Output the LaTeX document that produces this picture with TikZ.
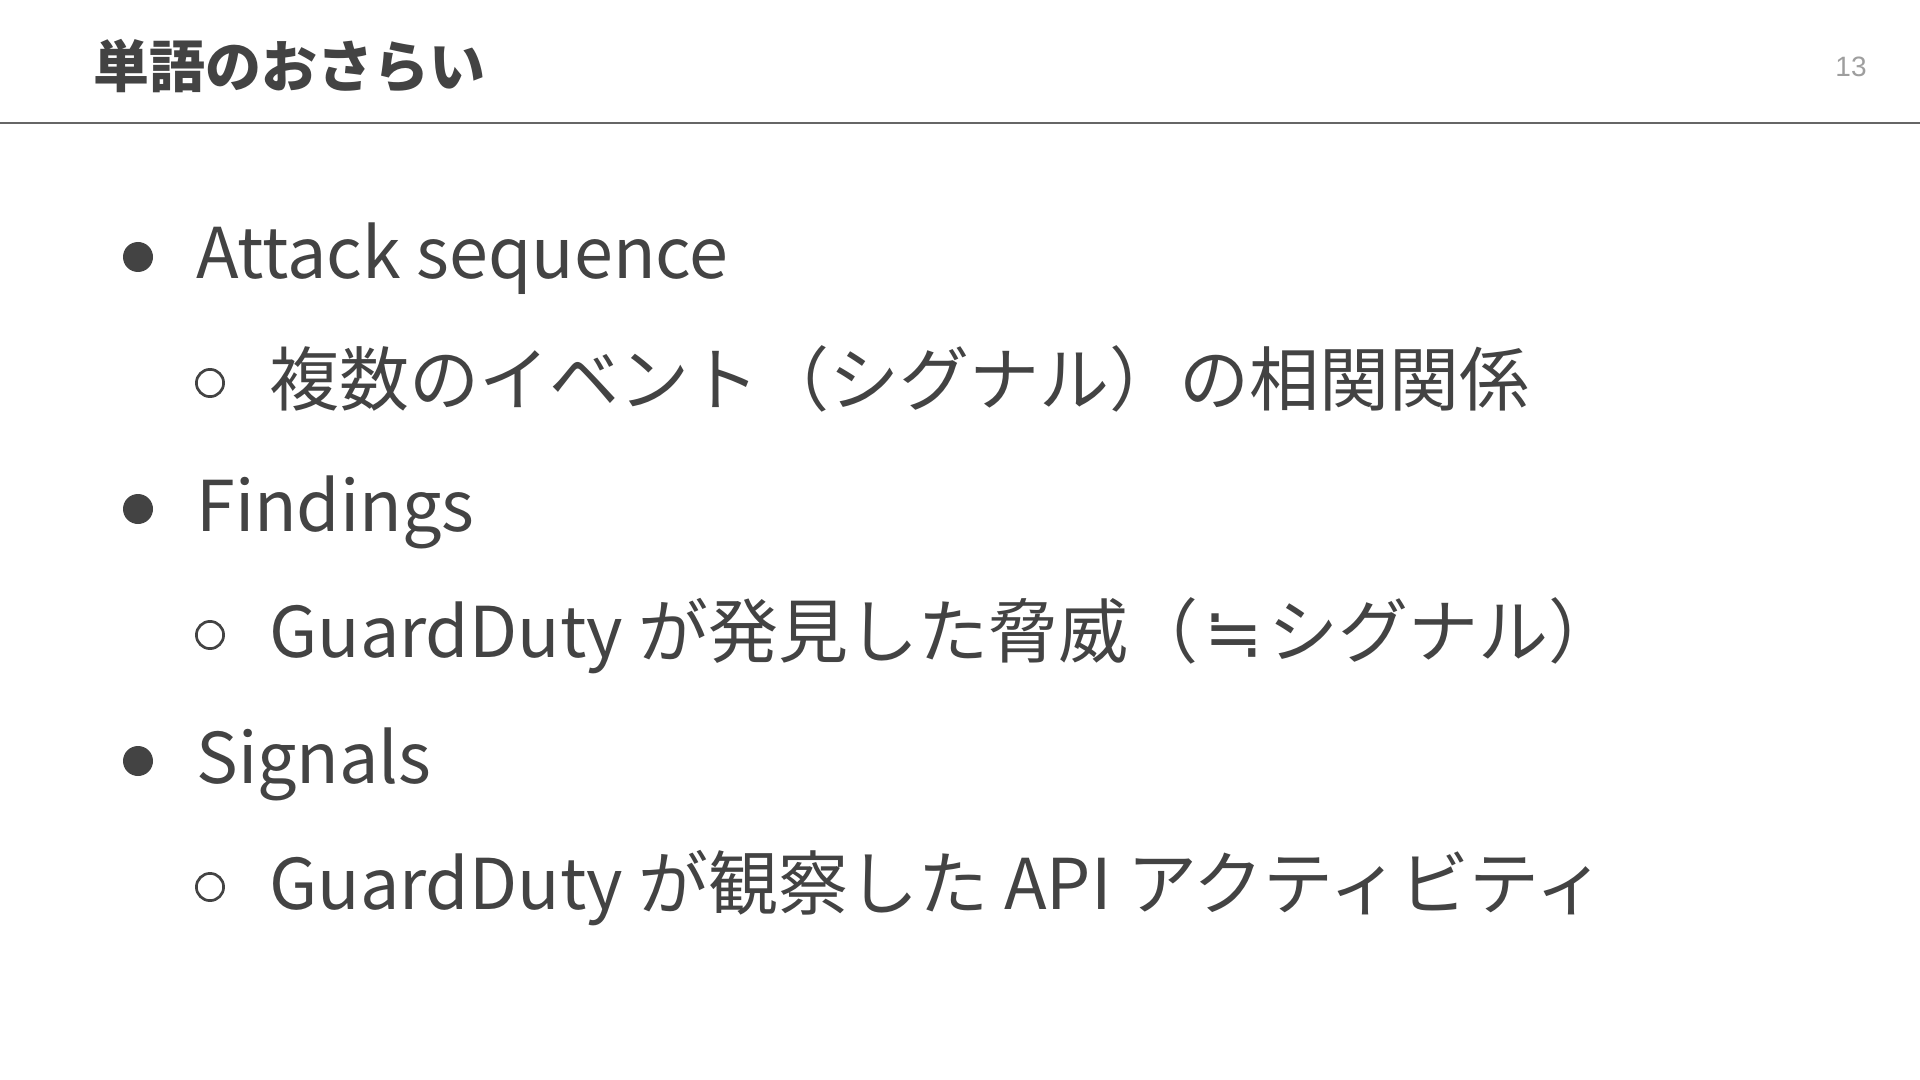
\documentclass[tikz,border=0pt]{standalone}
\usepackage{fontspec}
\setmainfont{Noto Sans CJK JP}
\newfontfamily\numfont{Liberation Sans}
\newfontfamily\symfont{DejaVu Sans}
\usepackage{tikz}
\usetikzlibrary{positioning}
\usepackage{xcolor}
\definecolor{mytext}{HTML}{434343}
\definecolor{myrule}{HTML}{666666}
\definecolor{mynum}{HTML}{9E9E9E}
\tikzset{
  itemtext/.style={anchor=base west, inner sep=0pt, text=mytext, font=\fontsize{35}{40}\selectfont},
  dotbullet/.style={circle, fill=mytext, minimum size=15pt, inner sep=0pt},
  ringbullet/.style={circle, draw=mytext, line width=1.35pt, minimum size=13.6pt, inner sep=0pt}
}

\begin{document}
\begin{tikzpicture}[x=0.5pt, y=-0.5pt]
				\useasboundingbox[fill=white] (0,0) rectangle (1920,1080);
				\node[anchor=base west, inner sep=0pt, text=mytext, font=\fontsize{28}{32}\selectfont\bfseries] (title) at (93,88) {単語のおさらい};
				\node[anchor=base east, inner sep=0pt, text=mynum, font=\numfont\fontsize{14}{16}\selectfont] (pagenum) at (1867,77) {13};
				\coordinate (rulel) at (0,123);
				\coordinate (ruler) at (1920,123);
				\draw [myrule, line width=1pt] (rulel) -- (ruler);
				% first item
				\node[dotbullet] (dota) at (138,257) {};
				\node[itemtext] (attack) at (196,279) {Attack sequence};
				\node[ringbullet] (ringa) at (210,383) {};
				\node[itemtext] (attackdef) at (269,405) {複数のイベント（シグナル）の相関関係};
				% second item
				\node[dotbullet] (dotb) at (138,509) {};
				\node[itemtext] (findings) at (196,531) {Findings};
				\node[ringbullet] (ringb) at (210,635) {};
				\node[itemtext] (findingsdef) at (269,657) {GuardDuty が発見した脅威（\makebox[1em]{\symfont ≒}シグナル）};
				% third item
				\node[dotbullet] (dotc) at (138,761) {};
				\node[itemtext] (signals) at (196,783) {Signals};
				\node[ringbullet] (ringc) at (210,887) {};
				\node[itemtext] (signalsdef) at (269,909) {GuardDuty が観察した API アクティビティ};
			\end{tikzpicture}
\end{document}
